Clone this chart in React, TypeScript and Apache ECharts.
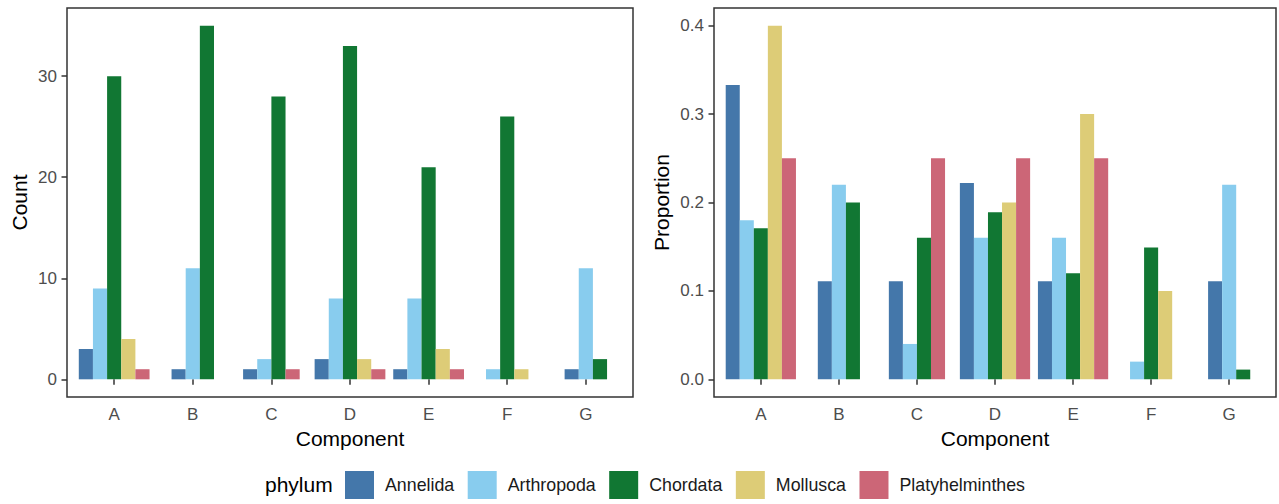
import React, { useEffect, useRef } from "react";
import * as echarts from "echarts";

// Components on the x axis
const components = ["A", "B", "C", "D", "E", "F", "G"];

// Phyla and their fill colours
const phyla = ["Annelida", "Arthropoda", "Chordata", "Mollusca", "Platyhelminthes"];
const phylumColors = ["#4477AA", "#88CCEE", "#117733", "#DDCC77", "#CC6677"];

// Counts per component (A..G) for each phylum
const countAnnelida = [3, 1, 1, 2, 1, 0, 1];
const countArthropoda = [9, 11, 2, 8, 8, 1, 11];
const countChordata = [30, 35, 28, 33, 21, 26, 2];
const countMollusca = [4, 0, 0, 2, 3, 1, 0];
const countPlatyhelminthes = [1, 0, 1, 1, 1, 0, 0];

// Proportion of each phylum found in each component (A..G)
const propAnnelida = [0.333, 0.111, 0.111, 0.222, 0.111, 0, 0.111];
const propArthropoda = [0.18, 0.22, 0.04, 0.16, 0.16, 0.02, 0.22];
const propChordata = [0.171, 0.2, 0.16, 0.189, 0.12, 0.149, 0.011];
const propMollusca = [0.4, 0, 0, 0.2, 0.3, 0.1, 0];
const propPlatyhelminthes = [0.25, 0, 0.25, 0.25, 0.25, 0, 0];

// Tick labels
const countTicks = [0, 10, 20, 30];
const propTicks = [0, 0.1, 0.2, 0.3, 0.4];

const counts = [countAnnelida, countArthropoda, countChordata, countMollusca, countPlatyhelminthes];
const props = [propAnnelida, propArthropoda, propChordata, propMollusca, propPlatyhelminthes];

const FONT = "'Liberation Sans', Arial, Helvetica, sans-serif";
const DODGE_WIDTH = 0.9;
const SLOT = DODGE_WIDTH / phyla.length;

// Bars present in each component are packed side by side and centred on the tick
function presence(ci: number) {
  return phyla.map((_, pi) => counts[pi][ci] > 0);
}

function seriesData(values: number[][], pi: number) {
  const rows: number[][] = [];
  components.forEach((_, ci) => {
    const pres = presence(ci);
    if (!pres[pi]) return;
    const n = pres.filter(Boolean).length;
    const slot = pres.slice(0, pi).filter(Boolean).length;
    rows.push([ci + 1, values[pi][ci], slot, n]);
  });
  return rows;
}

function renderBar(params: any, api: any) {
  const x = api.value(0);
  const v = api.value(1);
  const slot = api.value(2);
  const n = api.value(3);
  const base = api.coord([x, 0]);
  const top = api.coord([x, v]);
  const w = api.size([SLOT, 0])[0];
  const left = base[0] + (slot - n / 2) * w;
  return {
    type: "rect",
    shape: { x: left, y: top[1], width: w, height: base[1] - top[1] },
    style: api.style(),
  };
}

const tickStyle = { color: "#333333", width: 1.5 };

function xAxisFor(gridIndex: number) {
  const vals = components.map((_, i) => i + 1);
  return {
    type: "value",
    gridIndex,
    min: 0.4,
    max: 7.6,
    name: "Component",
    nameLocation: "middle",
    nameGap: 28,
    nameTextStyle: { fontSize: 21, color: "#000000", fontFamily: FONT },
    axisLine: { show: false },
    splitLine: { show: false },
    axisTick: { show: true, length: 5.5, lineStyle: tickStyle, customValues: vals },
    axisLabel: {
      customValues: vals,
      formatter: (v: number) => components[Math.round(v) - 1] ?? "",
      fontSize: 17,
      color: "#4D4D4D",
      fontFamily: FONT,
      margin: 9,
    },
  };
}

export default function App() {
  const ref = useRef<HTMLDivElement>(null);

  useEffect(() => {
    if (!ref.current) return;
    const chart = echarts.init(ref.current, undefined, { renderer: "svg" });

    const series: any[] = [];
    phyla.forEach((name, pi) => {
      series.push({
        type: "custom",
        name,
        xAxisIndex: 0,
        yAxisIndex: 0,
        itemStyle: { color: phylumColors[pi] },
        encode: { x: 0, y: 1 },
        data: seriesData(counts, pi),
        renderItem: renderBar,
      });
      series.push({
        type: "custom",
        name,
        xAxisIndex: 1,
        yAxisIndex: 1,
        itemStyle: { color: phylumColors[pi] },
        encode: { x: 0, y: 1 },
        data: seriesData(props, pi),
        renderItem: renderBar,
      });
    });

    chart.setOption({
      animation: false,
      backgroundColor: "#ffffff",
      textStyle: { fontFamily: FONT },
      grid: [
        { left: 67, top: 8, width: 566, height: 389, show: true, borderColor: "#333333", borderWidth: 1.5, backgroundColor: "transparent" },
        { left: 714, top: 8, width: 562, height: 389, show: true, borderColor: "#333333", borderWidth: 1.5, backgroundColor: "transparent" },
      ],
      xAxis: [xAxisFor(0), xAxisFor(1)],
      yAxis: [
        {
          type: "value",
          gridIndex: 0,
          min: -1.75,
          max: 36.75,
          name: "Count",
          nameLocation: "middle",
          nameGap: 37,
          nameTextStyle: { fontSize: 21, color: "#000000", fontFamily: FONT },
          axisLine: { show: false },
          splitLine: { show: false },
          axisTick: { show: true, length: 5.5, lineStyle: tickStyle, customValues: countTicks },
          axisLabel: { customValues: countTicks, fontSize: 17, color: "#4D4D4D", fontFamily: FONT, margin: 10 },
        },
        {
          type: "value",
          gridIndex: 1,
          min: -0.02,
          max: 0.42,
          name: "Proportion",
          nameLocation: "middle",
          nameGap: 42,
          nameTextStyle: { fontSize: 21, color: "#000000", fontFamily: FONT },
          axisLine: { show: false },
          splitLine: { show: false },
          axisTick: { show: true, length: 5.5, lineStyle: tickStyle, customValues: propTicks },
          axisLabel: {
            customValues: propTicks,
            formatter: (v: number) => v.toFixed(1),
            fontSize: 17,
            color: "#4D4D4D",
            fontFamily: FONT,
            margin: 10,
          },
        },
      ],
      legend: {
        data: phyla,
        left: 345,
        top: 471,
        orient: "horizontal",
        icon: "rect",
        itemWidth: 29,
        itemHeight: 28,
        itemGap: 13.5,
        padding: 0,
        selectedMode: false,
        textStyle: { fontSize: 17.8, color: "#1A1A1A", fontFamily: FONT, padding: [0, 0, 0, 6] },
      },
      graphic: [
        {
          type: "text",
          left: 265,
          top: 474,
          style: { text: "phylum", fontSize: 21, fill: "#000000", fontFamily: FONT },
        },
      ],
      series,
    });

    return () => chart.dispose();
  }, []);

  return (
    <div
      ref={ref}
      style={{ position: "fixed", left: 0, top: 0, width: 1279, height: 504 }}
    />
  );
}
